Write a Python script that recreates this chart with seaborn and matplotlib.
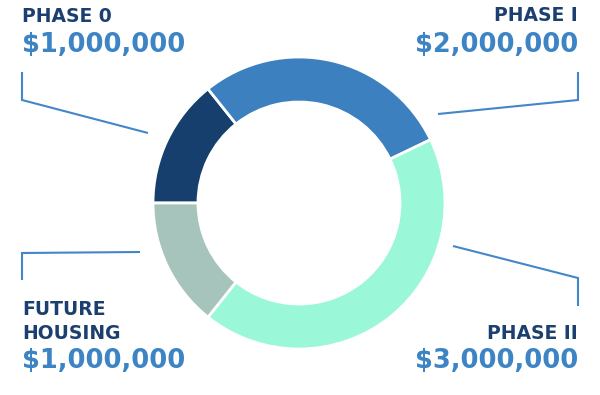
import matplotlib
matplotlib.use("Agg")
import matplotlib.pyplot as plt
import seaborn as sns

# data
phases = ["PHASE 0", "PHASE I", "PHASE II", "FUTURE\nHOUSING"]
amounts = [1000000, 2000000, 3000000, 1000000]
colors = ["#163f6d", "#3c80bf", "#9af7d8", "#a6c4bb"]

navy = "#1b3f6e"
blue = "#3c84c4"
line_col = "#4387c8"

sns.set_theme(style="white")
plt.rcParams["font.family"] = ["DejaVu Sans"]

W, H = 600, 395
fig = plt.figure(figsize=(W / 100, H / 100), dpi=100)
ax = fig.add_axes([0, 0, 1, 1])
ax.set_xlim(0, W)
ax.set_ylim(0, H)
ax.set_aspect("equal")
ax.axis("off")

def py(y):
    # pixel row (from top) -> data y
    return H - y

ax.pie(amounts, colors=colors, startangle=180, counterclock=False,
       center=(299, py(203)), radius=146, frame=True,
       wedgeprops=dict(width=45, edgecolor="white", linewidth=2))
ax.set_xlim(0, W)
ax.set_ylim(0, H)
ax.axis("off")

fmt = lambda v: "${:,.0f}".format(v)

# labels: (x, align, title baselines, value baseline)
lab_pos = [
    (22, "left", [22], 52),
    (578, "right", [21], 52),
    (578, "right", [339], 368),
    (22, "left", [315, 339], 368),
]
for name, amt, (x, ha, tys, vy) in zip(phases, amounts, lab_pos):
    for line, ty in zip(name.split("\n"), tys):
        ax.text(x, py(ty), line, ha=ha, va="baseline", fontsize=13.5,
                fontweight="bold", color=navy)
    ax.text(x, py(vy), fmt(amt), ha=ha, va="baseline", fontsize=18.5,
            fontweight="bold", color=blue)

# leader lines
leaders = [
    ([22, 22, 148], [72, 100, 133]),
    ([578, 578, 438], [72, 100, 114]),
    ([453, 578, 578], [246, 278, 306]),
    ([140, 22, 22], [252, 253, 280]),
]
for xs, ys in leaders:
    ax.plot(xs, [py(v) for v in ys], color=line_col, lw=1.5,
            solid_capstyle="butt", solid_joinstyle="miter")

fig.savefig("out.png", dpi=100, facecolor="white")
